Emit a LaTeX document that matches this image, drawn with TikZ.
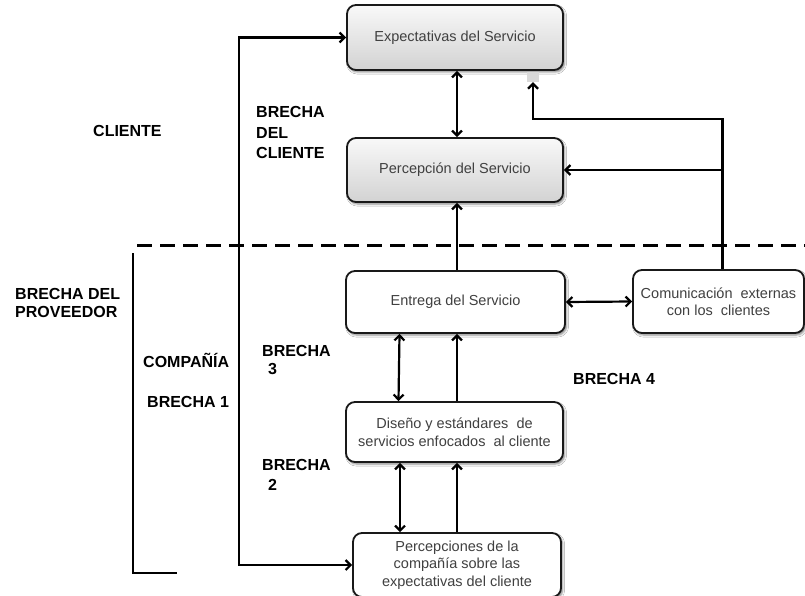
\documentclass[tikz,border=0pt]{standalone}
\usepackage{fontspec}
\setmainfont{Liberation Sans}
\usetikzlibrary{arrows.meta,shadows.blur}
\begin{document}
\begin{tikzpicture}[x=1pt,y=-1pt,
 box/.style={draw=black!90,line width=1.8pt,rounded corners=9pt,align=center,text=black!75,
   font=\fontsize{14.5}{17.5}\selectfont,inner sep=0pt,
   blur shadow={shadow xshift=1.5pt,shadow yshift=-2pt,shadow blur steps=4,shadow opacity=50}},
 gbox/.style={box,top color=gray!5,bottom color=gray!35},
 wbox/.style={box,fill=white},
 lab/.style={font=\bfseries\fontsize{16}{20}\selectfont,inner sep=0pt,anchor=base west},
 conn/.style={line width=2.2pt,-{Straight Barb[length=5pt,width=10pt]}},
 dconn/.style={line width=2.2pt,{Straight Barb[length=5pt,width=10pt]}-{Straight Barb[length=5pt,width=10pt]}},
]
\useasboundingbox (0,0) rectangle (805,596);
\fill[white] (0,0) rectangle (805,596);

% boxes
\node[gbox,minimum width=216,minimum height=65] (exp) at (455,37.5) {Expectativas del Servicio};
\node[gbox,minimum width=216,minimum height=64] (per) at (455,170) {Percepción del Servicio};
\node[wbox,minimum width=219,minimum height=62] (ent) at (455.5,302) {Entrega del Servicio};
\node[wbox,minimum width=171,minimum height=63] (com) at (718.5,301.5) {Comunicación \ externas\\con los \ clientes};
\node[wbox,minimum width=217,minimum height=60] (dis) at (454.5,432) {Diseño y estándares \ de\\servicios enfocados \ al cliente};
\node[wbox,minimum width=208,minimum height=64] (pcs) at (457,565) {Percepciones de la\\compañía sobre las\\expectativas del cliente};
\node[fill=gray!30,inner sep=0pt,minimum width=12,minimum height=10] (gr) at (533,77) {};

% dashed separator and bracket
\coordinate (dl) at (137,245);
\coordinate (dr) at (805,245);
\draw[line width=3pt,dash pattern=on 15pt off 8pt] (dl) -- (dr);
\coordinate (bt) at (133,253);
\coordinate (bb) at (177,573);
\draw[line width=2.2pt] (bt) |- (bb);

% connectors
\draw[dconn] (exp.west) -- ++(-107,0) |- (pcs.west);
\draw[dconn] ([xshift=2]exp.south) -- ([xshift=2]per.north);
\draw[conn] ([xshift=1.5]ent.north) -- ([xshift=2]per.south);
\coordinate (riser) at ([xshift=4]com.north);
\draw[conn] (riser) -- ++(0,-150) -| (gr.south);
\draw[conn] (riser |- per.east) -- (per.east);
\draw[dconn] (ent.east) -- (com.west);
\draw[dconn] ([xshift=-56]ent.south) -- ([xshift=-56]dis.north);
\draw[conn] ([xshift=2.5]dis.north) -- ([xshift=1.5]ent.south);
\draw[dconn] ([xshift=-54.5]dis.south) -- ([xshift=-57]pcs.north);
\draw[conn] (pcs.north) -- (pcs.north |- dis.south);

% labels
\node[lab] (l1) at (93,137) {CLIENTE};
\node[lab] (l2a) at (256,118) {BRECHA};
\node[lab] (l2b) at (256,139) {DEL};
\node[lab] (l2c) at (256,159) {CLIENTE};
\node[lab] (l3a) at (15,299) {BRECHA DEL};
\node[lab] (l3b) at (15,317) {PROVEEDOR};
\node[lab] (l4) at (143,367) {COMPAÑÍA};
\node[lab] (l5) at (147,407) {BRECHA 1};
\node[lab] (l6a) at (262,356) {BRECHA};
\node[lab] (l6b) at (268,374) {3};
\node[lab] (l7a) at (262,470) {BRECHA};
\node[lab] (l7b) at (268,490) {2};
\node[lab] (l8) at (573,384) {BRECHA 4};
\end{tikzpicture}
\end{document}
